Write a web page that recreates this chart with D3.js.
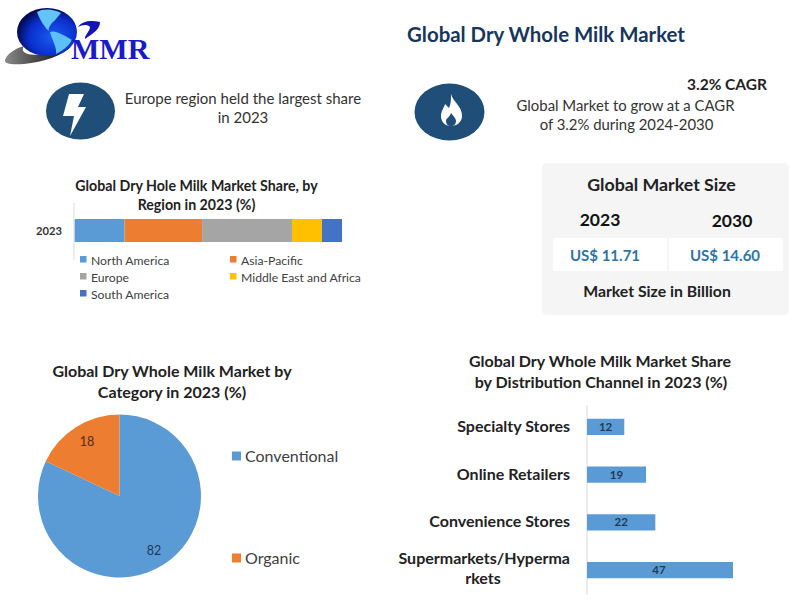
<!DOCTYPE html>
<html>
<head>
<meta charset="utf-8">
<script src="https://cdn.jsdelivr.net/npm/d3@7"></script>
<style>
  html, body { margin: 0; padding: 0; background: #fff; }
  svg { display: block; }
  text { font-family: Lato, "Open Sans", sans-serif; }
</style>
</head>
<body>
<div id="graf"></div>
<script>
// Data
const regionYear = ["2023"]
const regiones = ["North America", "Asia-Pacific", "Europe", "Middle East and Africa", "South America"]
const regionValores = [18.7, 29, 33.6, 11.2, 7.5]
const regionColores = ["#5b9bd5", "#ed7d31", "#a5a5a5", "#ffc000", "#4472c4"]

const categorias = ["Conventional", "Organic"]
const categoriaValores = [82, 18]
const categoriaColores = ["#5b9bd5", "#ed7d31"]

const canales = ["Specialty Stores", "Online Retailers", "Convenience Stores", "Supermarkets/Hypermarkets"]
const canalValores = [12, 19, 22, 47]

const tamanoAnios = ["2023", "2030"]
const tamanoValores = ["US$ 11.71", "US$ 14.60"]

const anchoTotal = 794
const altoTotal = 608

const svg = d3.select("#graf")
  .append("svg")
  .attr("width", anchoTotal)
  .attr("height", altoTotal)

const defs = svg.append("defs")

const addText = (parent, x, y, str, size, weight, fill, anchor = "middle") =>
  parent.append("text")
    .attr("x", x)
    .attr("y", y)
    .attr("text-anchor", anchor)
    .attr("font-size", size)
    .attr("font-weight", weight)
    .attr("fill", fill)
    .text(str)

// Logo
const globo = defs.append("radialGradient")
  .attr("id", "globo")
  .attr("cx", "0.6").attr("cy", "0.6").attr("r", "0.62")
globo.append("stop").attr("offset", "0").attr("stop-color", "#1a5cf0")
globo.append("stop").attr("offset", "0.65").attr("stop-color", "#0a2ecc")
globo.append("stop").attr("offset", "1").attr("stop-color", "#02084a")

const sombra = defs.append("linearGradient")
  .attr("id", "sombra")
  .attr("x1", "0").attr("x2", "1").attr("y1", "0").attr("y2", "0")
sombra.append("stop").attr("offset", "0").attr("stop-color", "#8a8a8a")
sombra.append("stop").attr("offset", "0.45").attr("stop-color", "#4a4a4a")
sombra.append("stop").attr("offset", "1").attr("stop-color", "#0c0c0c")

const logo = svg.append("g")
logo.append("path")
  .attr("d", "M5,60 C7,54 14,49 24,46 C20,52 26,55 38,55 C50,55 62,52 72,46 C62,56 44,62 24,64 C12,65 4,64 5,60 Z")
  .attr("fill", "url(#sombra)")
logo.append("ellipse")
  .attr("cx", 47).attr("cy", 32).attr("rx", 30).attr("ry", 24)
  .attr("fill", "url(#globo)")
logo.append("path")
  .attr("d", "M37,12 C43,8 54,9 61,13 C58,16 56,20 52,23 C50,26 48,28 49,31 C45,28 40,20 37,12 Z")
  .attr("fill", "#63c4f7")
logo.append("path")
  .attr("d", "M50,32 C55,30 62,34 72,40 C68,47 62,51 56,54 C57,47 52,40 50,32 Z")
  .attr("fill", "#5cc0f7")
logo.append("path")
  .attr("d", "M78,27 C82,21 91,20 100,22 C100,29 94,33 85,39 C84,36 90,31 90,27 C87,24 82,25 78,27 Z")
  .attr("fill", "#1414b8")
logo.append("text")
  .attr("x", 71).attr("y", 59)
  .attr("font-size", 30)
  .attr("font-weight", 700)
  .attr("fill", "#1a1ac8")
  .style("font-family", "'Liberation Serif', serif")
  .text("MMR")

// Titulo
addText(svg, 546, 42, "Global Dry Whole Milk Market", 20.4, 700, "#17365d")

// Iconos
const azulIcono = "#1f4e79"
svg.append("ellipse").attr("cx", 80.5).attr("cy", 111).attr("rx", 34.5).attr("ry", 28.5).attr("fill", azulIcono)
svg.append("path")
  .attr("d", "M69,94 L84,94 L78,107 L86,107 L70,136 L74,116 L63,116 Z")
  .attr("fill", "#fff")
svg.append("ellipse").attr("cx", 449.5).attr("cy", 112).attr("rx", 35).attr("ry", 28.5).attr("fill", azulIcono)
svg.append("path")
  .attr("d", "M451,94 C453,102 462,106 462,116 C462,122 457,126 451,126 C445,126 441,122 441,116 C441,111 444,108 445,104 C447,106 448,107 449,108 C451,104 451,99 451,94 Z")
  .attr("fill", "#fff")
svg.append("path")
  .attr("d", "M451,113 C453,116 456,118 456,121 C456,124 454,126 451,126 C448,126 446,124 446,121 C446,118 450,117 451,113 Z")
  .attr("fill", azulIcono)

addText(svg, 243, 104, "Europe region held the largest share", 15, 400, "#333")
addText(svg, 243, 123, "in 2023", 15, 400, "#333")
addText(svg, 727, 90, "3.2% CAGR", 15.5, 700, "#222")
addText(svg, 625.5, 111, "Global Market to grow at a CAGR", 14.9, 400, "#333")
addText(svg, 626.5, 130, "of 3.2% during 2024-2030", 14.9, 400, "#333")

// Barra por region
addText(svg, 196.5, 191, "Global Dry Hole Milk Market Share, by", 14.2, 700, "#222")
addText(svg, 196.5, 210, "Region in 2023 (%)", 14.2, 700, "#222")

const xRegion = d3.scaleLinear().domain([0, 100]).range([74.5, 342])
const yRegion = d3.scaleBand().domain(regionYear).range([217, 243])

const acumulado = d3.cumsum(regionValores)
svg.append("g")
  .selectAll("rect")
  .data(regionValores)
  .join("rect")
  .attr("x", (d, i) => xRegion(acumulado[i] - d))
  .attr("y", yRegion("2023") + 2)
  .attr("width", (d) => xRegion(d) - xRegion(0))
  .attr("height", yRegion.bandwidth() - 3)
  .attr("fill", (d, i) => regionColores[i])

svg.append("line")
  .attr("x1", 74).attr("x2", 74).attr("y1", 203).attr("y2", 260)
  .attr("stroke", "#d9d9d9")

addText(svg, 62, 235, regionYear[0], 11.2, 700, "#333", "end")

const leyendaRegion = [[80, 260], [230, 260], [80, 277], [230, 277], [80, 294]]
regiones.forEach((r, i) => {
  const [lx, ly] = leyendaRegion[i]
  svg.append("rect")
    .attr("x", lx).attr("y", ly - 4)
    .attr("width", 6.5).attr("height", 6.5)
    .attr("fill", regionColores[i])
  addText(svg, lx + 11, ly + 4.5, r, 12.2, 400, "#404040", "start")
})

// Tamano de mercado
svg.append("rect")
  .attr("x", 542).attr("y", 163)
  .attr("width", 247).attr("height", 152)
  .attr("rx", 5)
  .attr("fill", "#f5f5f5")
addText(svg, 661.5, 191, "Global Market Size", 17.8, 700, "#222")

const xTamano = d3.scaleBand().domain(tamanoAnios).range([553, 783]).paddingInner(0.02)
tamanoAnios.forEach((a, i) => {
  addText(svg, i === 0 ? 600 : 732, i === 0 ? 226 : 227, a, 17.5, 700, "#111")
  svg.append("rect")
    .attr("x", xTamano(a))
    .attr("y", 238)
    .attr("width", xTamano.bandwidth())
    .attr("height", 33)
    .attr("fill", "#fff")
  addText(svg, i === 0 ? 605 : 725, 261, tamanoValores[i], 15, 700, "#2e75a6")
})
addText(svg, 657, 297, "Market Size in Billion", 15.8, 700, "#222")

// Pie por categoria
addText(svg, 172, 377, "Global Dry Whole Milk Market by", 16, 700, "#222")
addText(svg, 172, 398, "Category in 2023 (%)", 16, 700, "#222")

const pie = d3.pie().sort(null)
const arco = d3.arc().innerRadius(0).outerRadius(81.5)
const gPie = svg.append("g").attr("transform", "translate(119.5, 496)")
gPie.selectAll("path")
  .data(pie(categoriaValores))
  .join("path")
  .attr("d", arco)
  .attr("fill", (d, i) => categoriaColores[i])

addText(svg, 154, 555, categoriaValores[0], 12.5, 400, "#1f3a57")
addText(svg, 87, 446, categoriaValores[1], 12.5, 400, "#5a2a0a")

const leyendaPie = [456, 558]
categorias.forEach((c, i) => {
  svg.append("rect")
    .attr("x", 232).attr("y", leyendaPie[i] - 4.5)
    .attr("width", 9).attr("height", 9)
    .attr("fill", categoriaColores[i])
  addText(svg, 245, leyendaPie[i] + 5.5, c, 16, 400, "#404040", "start")
})

// Barras por canal
addText(svg, 600, 367, "Global Dry Whole Milk Market Share", 16, 700, "#222")
addText(svg, 601, 388, "by Distribution  Channel in 2023 (%)", 16, 700, "#222")

const xCanal = d3.scaleLinear().domain([0, 47]).range([587, 733])
const yCanal = d3.scaleBand().domain(canales).range([403, 594]).paddingInner(0.66).paddingOuter(0.33)

svg.append("line")
  .attr("x1", 587).attr("x2", 587).attr("y1", 405).attr("y2", 595)
  .attr("stroke", "#d9d9d9")

svg.append("g")
  .selectAll("rect")
  .data(canalValores)
  .join("rect")
  .attr("x", xCanal(0))
  .attr("y", (d, i) => yCanal(canales[i]))
  .attr("width", (d) => xCanal(d) - xCanal(0))
  .attr("height", yCanal.bandwidth())
  .attr("fill", "#5b9bd5")

canalValores.forEach((v, i) => {
  const cy = yCanal(canales[i]) + yCanal.bandwidth() / 2
  addText(svg, (xCanal(0) + xCanal(v)) / 2 + (i === 3 ? -1 : 0), cy + 4, v, 11.5, 700, "#1f3a57")
  if (i < 3) {
    addText(svg, 570, cy + 5, canales[i], 16, 700, "#222", "end")
  }
})
addText(svg, 570, 564, "Supermarkets/Hyperma", 16, 700, "#222", "end")
addText(svg, 483, 584, "rkets", 16, 700, "#222", "middle")
</script>
</body>
</html>
